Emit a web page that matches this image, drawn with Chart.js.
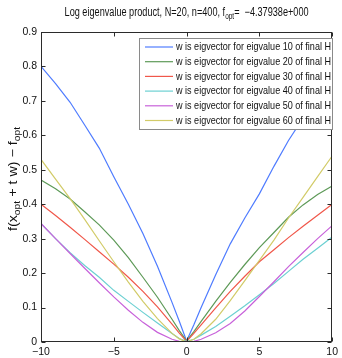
<!DOCTYPE html>
<html><head><meta charset="utf-8">
<script src="https://cdn.jsdelivr.net/npm/chart.js@4/dist/chart.umd.min.js"></script>
<style>html,body{margin:0;padding:0;background:#fff;overflow:hidden}#wrap{width:342px;height:358px;position:relative}</style>
</head><body><div id="wrap"><canvas id="c" width="342" height="358"></canvas></div>
<script>
// ---- data ----
const tValues = [-10,-9,-8,-7,-6,-5,-4,-3,-2,-1,-0.5,0,0.5,1,2,3,4,5,6,7,8,9,10];
const eig10 = [0.80,0.75,0.696,0.63,0.563,0.48,0.40,0.315,0.22,0.115,0.06,0.003,0.05,0.10,0.195,0.285,0.36,0.43,0.51,0.585,0.65,0.70,0.74];
const eig20 = [0.47,0.445,0.415,0.378,0.34,0.296,0.245,0.188,0.13,0.066,0.033,0.003,0.03,0.06,0.118,0.173,0.225,0.274,0.318,0.362,0.398,0.428,0.453];
const eig30 = [0.40,0.367,0.333,0.298,0.262,0.226,0.188,0.147,0.102,0.052,0.026,0.002,0.025,0.05,0.099,0.147,0.191,0.233,0.268,0.303,0.336,0.368,0.40];
const eig40 = [0.344,0.30,0.259,0.222,0.188,0.15,0.118,0.086,0.055,0.025,0.01,0.002,0.008,0.02,0.045,0.075,0.105,0.137,0.17,0.205,0.24,0.272,0.305];
const eig50 = [0.344,0.30,0.257,0.214,0.172,0.131,0.092,0.057,0.028,0.008,0.002,0,0.002,0.008,0.027,0.054,0.09,0.132,0.175,0.219,0.26,0.30,0.338];
const eig60 = [0.53,0.473,0.416,0.356,0.294,0.233,0.174,0.118,0.068,0.025,0.009,0,0.008,0.024,0.066,0.12,0.178,0.237,0.296,0.36,0.42,0.48,0.54];
const seriesLabels = [
  'w is eigvector for eigvalue 10 of final H',
  'w is eigvector for eigvalue 20 of final H',
  'w is eigvector for eigvalue 30 of final H',
  'w is eigvector for eigvalue 40 of final H',
  'w is eigvector for eigvalue 50 of final H',
  'w is eigvector for eigvalue 60 of final H'
];
const seriesValues = [eig10, eig20, eig30, eig40, eig50, eig60];
const xTickValues = [-10,-5,0,5,10];
const yTickValues = [0,0.1,0.2,0.3,0.4,0.5,0.6,0.7,0.8,0.9];
const titleMain = 'Log eigenvalue product, N=20, n=400, f';
const titleSub = 'opt';
const titleTail = '=  \u22124.37938e+000';
const yLabelParts = [['f(x',0],['opt',1],[' + t w) \u2212 f',0],['opt',1]];

// ---- styles ----
const colors = ['#4f7cff','#5e9a58','#f0574a','#6cd0d2','#c862da','#d2cb68'];
const FAM = "'Liberation Sans Narrow','Liberation Sans',Arial,sans-serif";

function drawFitted(ctx, segs, cx, y, targetW){
  let total = 0;
  const ws = segs.map(s => { ctx.font = s.size + 'px ' + FAM; const w = ctx.measureText(s.text).width; total += w; return w; });
  const sx = targetW / total;
  ctx.save();
  ctx.textAlign = 'left';
  ctx.translate(cx - targetW/2, y);
  ctx.scale(sx, 1);
  let x = 0;
  segs.forEach((s,i) => { ctx.font = s.size + 'px ' + FAM; ctx.fillText(s.text, x, s.dy); x += ws[i]; });
  ctx.restore();
}

const decor = {
  id: 'decor',
  afterDraw(chart){
    const ctx = chart.ctx, a = chart.chartArea, xs = chart.scales.x, ys = chart.scales.y;
    const L = Math.round(a.left)+0.5, R = Math.round(a.right)-0.5, T = Math.round(a.top)+0.5, B = Math.round(a.bottom)-0.5;
    ctx.save();
    ctx.strokeStyle = '#2b2b2b'; ctx.lineWidth = 1;
    ctx.strokeRect(L, T, R-L, B-T);
    ctx.beginPath();
    xTickValues.forEach(v => { const p = Math.round(xs.getPixelForValue(v))+0.5; ctx.moveTo(p,B); ctx.lineTo(p,B-4); ctx.moveTo(p,T); ctx.lineTo(p,T+4); });
    yTickValues.forEach(v => { const p = Math.round(ys.getPixelForValue(v))+0.5; ctx.moveTo(L,p); ctx.lineTo(L+4,p); ctx.moveTo(R,p); ctx.lineTo(R-4,p); });
    ctx.stroke();

    // legend
    const lx = 139.5, ly = 38.5, lw = 193, lh = 91;
    ctx.fillStyle = '#fff'; ctx.fillRect(lx, ly, lw, lh);
    ctx.strokeStyle = '#8a8a8a'; ctx.strokeRect(lx, ly, lw, lh);
    ctx.textBaseline = 'middle'; ctx.fillStyle = '#111';
    seriesLabels.forEach((lab,i) => {
      const yy = 47 + i*14.7;
      ctx.strokeStyle = colors[i]; ctx.lineWidth = 1.2;
      ctx.beginPath(); ctx.moveTo(145, yy); ctx.lineTo(173, yy); ctx.stroke();
      drawFitted(ctx, [{text:lab,size:11.5,dy:0}], 176+155/2, yy, 155);
    });

    // title
    ctx.textBaseline = 'alphabetic'; ctx.fillStyle = '#111';
    drawFitted(ctx, [{text:titleMain,size:12,dy:0},{text:titleSub,size:8.5,dy:3},{text:titleTail,size:12,dy:0}], (a.left+a.right)/2, 16, 244);

    // y label
    ctx.save();
    ctx.translate(17, 179);
    ctx.rotate(-Math.PI/2);
    drawFitted(ctx, yLabelParts.map(p => ({text:p[0], size: p[1]?9:12.5, dy: p[1]?3:0})), 0, 0, 104);
    ctx.restore();
    ctx.restore();
  }
};

const datasets = seriesValues.map((vals,i) => ({
  label: seriesLabels[i],
  data: tValues.map((t,j) => ({x:t, y:vals[j]})),
  borderColor: colors[i],
  backgroundColor: colors[i],
  borderWidth: 1.2,
  pointRadius: 0,
  showLine: true,
  tension: 0,
  fill: false,
  order: seriesValues.length - i
}));

const fmtX = v => (v < 0 ? '\u2212' + Math.abs(v) : String(v));
const fmtY = v => (Math.abs(v) < 1e-9 ? '0' : v.toFixed(1));

new Chart(document.getElementById('c'), {
  type: 'scatter',
  data: { datasets },
  options: {
    responsive: false, animation: false, devicePixelRatio: 1,
    layout: { padding: { top: 32, right: 5, left: 0, bottom: 0 } },
    plugins: { legend: { display: false }, title: { display: false }, tooltip: { enabled: false } },
    scales: {
      x: {
        type: 'linear', min: -10, max: 10,
        afterBuildTicks: s => { s.ticks = xTickValues.map(v => ({value: v})); },
        afterFit: s => { s.height = 16; },
        grid: { display: false, drawTicks: false }, border: { display: false },
        ticks: { callback: fmtX, autoSkip: false, maxRotation: 0, padding: 4, color: '#111', font: { family: FAM, size: 10.5 } }
      },
      y: {
        type: 'linear', min: 0, max: 0.9,
        afterBuildTicks: s => { s.ticks = yTickValues.map(v => ({value: v})); },
        afterFit: s => { s.width = 41; },
        grid: { display: false, drawTicks: false }, border: { display: false },
        ticks: { callback: fmtY, autoSkip: false, padding: 4, color: '#111', font: { family: FAM, size: 10.5 } }
      }
    }
  },
  plugins: [decor]
});
</script></body></html>
